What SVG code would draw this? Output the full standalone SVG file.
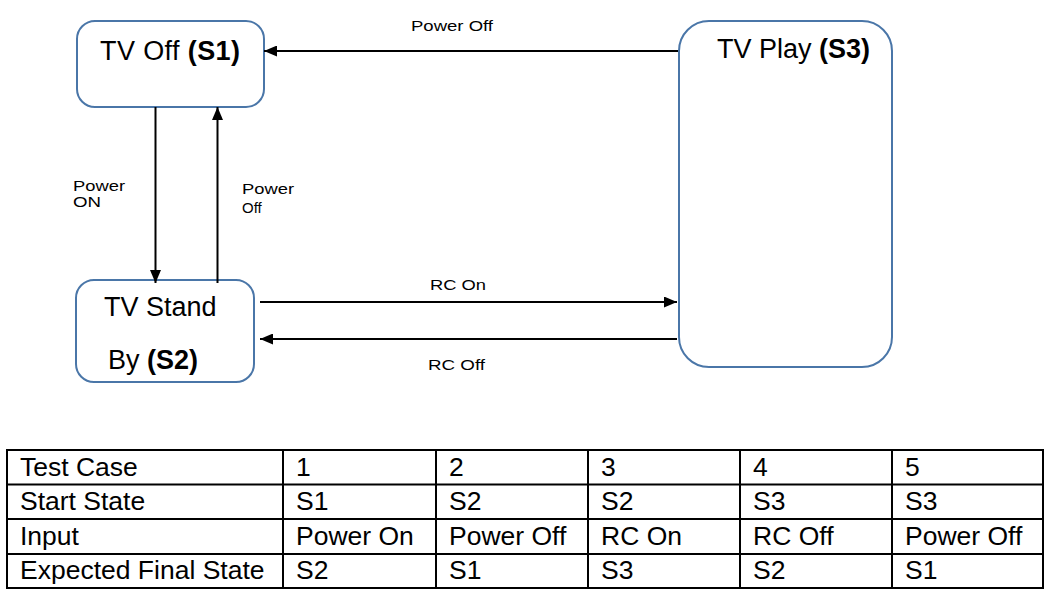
<svg xmlns="http://www.w3.org/2000/svg" width="1052" height="595" viewBox="0 0 1052 595">
  <style>
    .node { fill: #ffffff; stroke: #4a76a8; stroke-width: 2; }
    .nt { font-family: "Liberation Sans", Arial, sans-serif; font-size: 27px; fill: #000; }
    .b { font-weight: bold; }
    .edge { stroke: #000; stroke-width: 2; fill: none; marker-end: url(#ah); }
    .el { font-family: "Liberation Sans", Arial, sans-serif; font-size: 15px; fill: #000; }
    .tl { stroke: #000; stroke-width: 2; fill: none; }
    .tt { font-family: "Liberation Sans", Arial, sans-serif; font-size: 26.5px; fill: #000; }
  </style>
  <defs>
    <marker id="ah" markerWidth="13" markerHeight="11" refX="13" refY="5.5" orient="auto" markerUnits="userSpaceOnUse">
      <path d="M0,0 L13,5.5 L0,11 z" fill="#000"/>
    </marker>
  </defs>
  <rect width="1052" height="595" fill="#ffffff"/>

  <g id="s1">
    <rect class="node" x="77" y="21" width="187" height="86" rx="18" ry="18"/>
    <text class="nt" x="100" y="60" textLength="140" lengthAdjust="spacing">TV Off <tspan class="b">(S1)</tspan></text>
  </g>
  <g id="s2">
    <rect class="node" x="76" y="280" width="178" height="102" rx="18" ry="18"/>
    <text class="nt" x="104" y="316">TV Stand</text>
    <text class="nt" x="108" y="369">By <tspan class="b">(S2)</tspan></text>
  </g>
  <g id="s3">
    <rect class="node" x="679" y="21" width="213" height="346" rx="30" ry="30"/>
    <text class="nt" x="717" y="58">TV Play <tspan class="b">(S3)</tspan></text>
  </g>

  <g id="connectors">
    <line class="edge" x1="678" y1="51" x2="264" y2="51"/>
    <line class="edge" x1="155.5" y1="107" x2="155.5" y2="283"/>
    <line class="edge" x1="217.5" y1="283" x2="217.5" y2="107"/>
    <line class="edge" x1="260" y1="302" x2="677" y2="302"/>
    <line class="edge" x1="677" y1="339" x2="260" y2="339"/>
    <text class="el" x="411" y="31" textLength="82" lengthAdjust="spacingAndGlyphs">Power Off</text>
    <text class="el" x="73" y="191" textLength="52" lengthAdjust="spacingAndGlyphs">Power</text>
    <text class="el" x="73" y="207" textLength="28" lengthAdjust="spacingAndGlyphs">ON</text>
    <text class="el" x="242" y="194" textLength="52" lengthAdjust="spacingAndGlyphs">Power</text>
    <text class="el" x="242" y="213">Off</text>
    <text class="el" x="430" y="290" textLength="56" lengthAdjust="spacingAndGlyphs">RC On</text>
    <text class="el" x="428" y="370" textLength="57" lengthAdjust="spacingAndGlyphs">RC Off</text>
  </g>

  <g id="table">
    <rect class="tl" x="7" y="450" width="1036" height="138"/>
    <line class="tl" x1="7" y1="484.5" x2="1043" y2="484.5"/>
    <line class="tl" x1="7" y1="519" x2="1043" y2="519"/>
    <line class="tl" x1="7" y1="554" x2="1043" y2="554"/>
    <line class="tl" x1="283" y1="450" x2="283" y2="588"/>
    <line class="tl" x1="436" y1="450" x2="436" y2="588"/>
    <line class="tl" x1="588" y1="450" x2="588" y2="588"/>
    <line class="tl" x1="740" y1="450" x2="740" y2="588"/>
    <line class="tl" x1="892" y1="450" x2="892" y2="588"/>

    <text class="tt" x="20" y="476">Test Case</text>
    <text class="tt" x="296" y="476">1</text>
    <text class="tt" x="449" y="476">2</text>
    <text class="tt" x="601" y="476">3</text>
    <text class="tt" x="753" y="476">4</text>
    <text class="tt" x="905" y="476">5</text>

    <text class="tt" x="20" y="510">Start State</text>
    <text class="tt" x="296" y="510">S1</text>
    <text class="tt" x="449" y="510">S2</text>
    <text class="tt" x="601" y="510">S2</text>
    <text class="tt" x="753" y="510">S3</text>
    <text class="tt" x="905" y="510">S3</text>

    <text class="tt" x="20" y="545">Input</text>
    <text class="tt" x="296" y="545">Power On</text>
    <text class="tt" x="449" y="545">Power Off</text>
    <text class="tt" x="601" y="545">RC On</text>
    <text class="tt" x="753" y="545">RC Off</text>
    <text class="tt" x="905" y="545">Power Off</text>

    <text class="tt" x="20" y="579">Expected Final State</text>
    <text class="tt" x="296" y="579">S2</text>
    <text class="tt" x="449" y="579">S1</text>
    <text class="tt" x="601" y="579">S3</text>
    <text class="tt" x="753" y="579">S2</text>
    <text class="tt" x="905" y="579">S1</text>
  </g>
</svg>
